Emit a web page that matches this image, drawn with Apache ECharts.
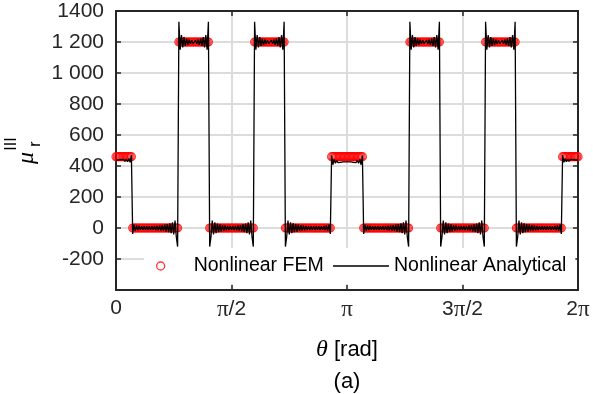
<!DOCTYPE html>
<html>
<head>
<meta charset="utf-8">
<script src="https://cdn.jsdelivr.net/npm/echarts@6.0.0/dist/echarts.min.js"></script>
<style>
    html, body { margin: 0; padding: 0; background: #fff; }
    #chart { width: 593px; height: 394px; }
</style>
</head>
<body>
<div id="chart"></div>
<script>
    // axis ticks (theta in degrees, shown as multiples of pi)
    var xTickValues = [0, 90, 180, 270, 360];
    var xTickLabels = ['0', '{p|\u03c0}/2', '{p|\u03c0}', '3{p|\u03c0}/2', '2{p|\u03c0}'];
    var yTickValues = [-400, -200, 0, 200, 400, 600, 800, 1000, 1200, 1400];
    var yTickLabels = ['', '-200', '0', '200', '400', '600', '800', '1 000', '1 200', '1400'];

    // Nonlinear FEM: plateaus, sampled every 1 degree
    var femStart = [0, 13, 49, 73, 108, 132, 168, 193, 229, 253, 288, 312, 348];
    var femEnd   = [12, 48, 72, 107, 131, 167, 192, 228, 252, 287, 311, 347, 360];
    var femLevel = [460, 0, 1200, 0, 1200, 0, 460, 0, 1200, 0, 1200, 0, 460];

    // Nonlinear Analytical: values read every 1 degree, piece by piece
    var anaStart460 = [438, 432, 440, 431, 441, 430, 442, 429, 444, 427, 447, 424, 470];
    var anaLowA = [-38, 22, -18, 16, -14, 13, -12, 12, -11, 11, -11, 11, -11, 11, -11, 12, -12, 13,
                   -13, 14, -15, 16, -17, 18, -19, 21, -23, 25, -27, 30, -33, 37, -42, 48, -58, -120];
    var anaHigh = [1330, 1150, 1245, 1165, 1232, 1175, 1222, 1182, 1215, 1188, 1212, 1190,
                   1190, 1212, 1188, 1215, 1182, 1222, 1175, 1232, 1165, 1245, 1150, 1330];
    var anaLowB = [-120, -58, 48, -42, 37, -33, 29, -26, 23, -21, 19, -17, 16, -15, 14, -14, 13, -13,
                   13, -14, 14, -15, 16, -17, 19, -21, 23, -26, 29, -33, 37, -42, 48, -58, -120];
    var anaLowC = [-120, -58, 48, -42, 37, -33, 30, -27, 25, -23, 21, -19, 18, -17, 16, -15, 14, -13,
                   13, -12, 12, -11, 11, -11, 11, -11, 11, -11, 12, -12, 13, -14, 16, -18, 22, -38];
    var anaMid460 = [468, 408, 442, 418, 435, 422, 433, 424, 431, 426, 430, 427, 428,
                     427, 430, 426, 431, 424, 433, 422, 435, 418, 442, 408, 468];
    var anaEnd460 = [470, 424, 447, 427, 444, 429, 442, 430, 441, 431, 440, 432, 438];

    var anaPieces = [anaStart460, anaLowA, anaHigh, anaLowB, anaHigh, anaLowC, anaMid460,
                     anaLowA, anaHigh, anaLowB, anaHigh, anaLowC, anaEnd460];

    var femData = [];
    for (var s = 0; s < femLevel.length; s++) {
        for (var d = femStart[s]; d <= femEnd[s]; d++) {
            femData.push([d, femLevel[s]]);
        }
    }
    var anaData = [];
    var deg = 0;
    anaPieces.forEach(function (piece) {
        piece.forEach(function (v) {
            anaData.push([deg, v]);
            deg++;
        });
    });

    var frameColor = '#262626';
    var textFont = 'Liberation Sans';

    function xAxisOf(pos, showLabel) {
        return {
            type: 'value', position: pos, min: 0, max: 360, interval: 90,
            axisLine: { show: true, onZero: false, lineStyle: { color: frameColor, width: 2 } },
            axisTick: { show: true, inside: true, length: 5, lineStyle: { color: frameColor, width: 1.5 } },
            axisLabel: {
                show: showLabel, margin: 8, color: frameColor, fontSize: 21, fontFamily: textFont,
                formatter: function (v) {
                    var i = xTickValues.indexOf(v);
                    return i >= 0 ? xTickLabels[i] : '';
                },
                rich: { p: { fontFamily: 'Liberation Serif', fontSize: 23, color: frameColor } }
            },
            splitLine: { show: showLabel, lineStyle: { color: '#dcdcdc', width: 2 } }
        };
    }
    function yAxisOf(pos, showLabel) {
        return {
            type: 'value', position: pos, min: -400, max: 1400, interval: 200,
            axisLine: { show: true, onZero: false, lineStyle: { color: frameColor, width: 2 } },
            axisTick: { show: true, inside: true, length: 5, lineStyle: { color: frameColor, width: 1.5 } },
            axisLabel: {
                show: showLabel, margin: 12, color: frameColor, fontSize: 21, fontFamily: textFont,
                showMinLabel: false,
                formatter: function (v) {
                    var i = yTickValues.indexOf(v);
                    return i >= 0 ? yTickLabels[i] : '';
                }
            },
            splitLine: { show: showLabel, lineStyle: { color: '#dcdcdc', width: 2 } }
        };
    }
    // one legend box per entry so each can be placed where the reference has it
    function legendOf(left, padding, item) {
        return {
            left: left, top: 248, orient: 'horizontal',
            padding: padding,
            backgroundColor: '#fff',
            itemWidth: 56, itemHeight: 8,
            textStyle: { color: '#000', fontSize: 19.5, fontFamily: textFont },
            data: [item]
        };
    }

    var myChart = echarts.init(document.getElementById('chart'));
    var options = {
        animation: false,
        backgroundColor: '#fff',
        grid: { left: 116, right: 15, top: 11, bottom: 104 },
        xAxis: [xAxisOf('bottom', true), xAxisOf('top', false)],
        yAxis: [yAxisOf('left', true), yAxisOf('right', false)],
        legend: [
            legendOf(144, [8, 6, 8, 12], { name: 'Nonlinear FEM', icon: 'circle',
                itemStyle: { color: 'rgba(0,0,0,0)', borderColor: '#ff0000', borderWidth: 1.3 } }),
            legendOf(322, [8, 9, 8, 11], { name: 'Nonlinear Analytical', icon: 'path://M0,0 H56 V1.5 H0 Z',
                itemStyle: { color: '#000', borderWidth: 0 } })
        ],
        series: [
            {
                name: 'Nonlinear FEM',
                type: 'scatter',
                data: femData,
                symbol: 'circle',
                symbolSize: 8,
                itemStyle: { color: 'rgba(0,0,0,0)', borderColor: '#ff0000', borderWidth: 1.2 },
                z: 2
            },
            {
                name: 'Nonlinear Analytical',
                type: 'line',
                data: anaData,
                symbol: 'none',
                showSymbol: false,
                itemStyle: { color: '#000' },
                lineStyle: { color: '#000', width: 1.3 },
                z: 3
            }
        ],
        graphic: [
            {
                type: 'text', x: 347, y: 350,
                style: {
                    text: '{i|\u03b8} [rad]', fill: '#000', fontSize: 22, fontFamily: textFont,
                    align: 'center', verticalAlign: 'middle',
                    rich: { i: { fontFamily: 'Liberation Serif', fontStyle: 'italic', fontSize: 24 } }
                }
            },
            {
                type: 'text', x: 347, y: 382,
                style: { text: '(a)', fill: '#000', fontSize: 22, fontFamily: textFont,
                         align: 'center', verticalAlign: 'middle' }
            },
            {
                type: 'group', x: 27, y: 152, rotation: Math.PI / 2,
                children: [
                    { type: 'text', x: -6, y: 0,
                      style: { text: '\u03bc', fill: '#000', fontSize: 24, fontStyle: 'italic',
                               fontFamily: 'Liberation Serif', align: 'center', verticalAlign: 'middle' } },
                    { type: 'text', x: 8, y: 9,
                      style: { text: 'r', fill: '#000', fontSize: 16, fontFamily: textFont,
                               align: 'center', verticalAlign: 'middle' } },
                    { type: 'text', x: 8, y: -15,
                      style: { text: 'III', fill: '#000', fontSize: 16, fontFamily: textFont,
                               align: 'center', verticalAlign: 'middle' } }
                ]
            }
        ]
    };
    myChart.setOption(options);
    window.addEventListener('resize', myChart.resize);
</script>
</body>
</html>
